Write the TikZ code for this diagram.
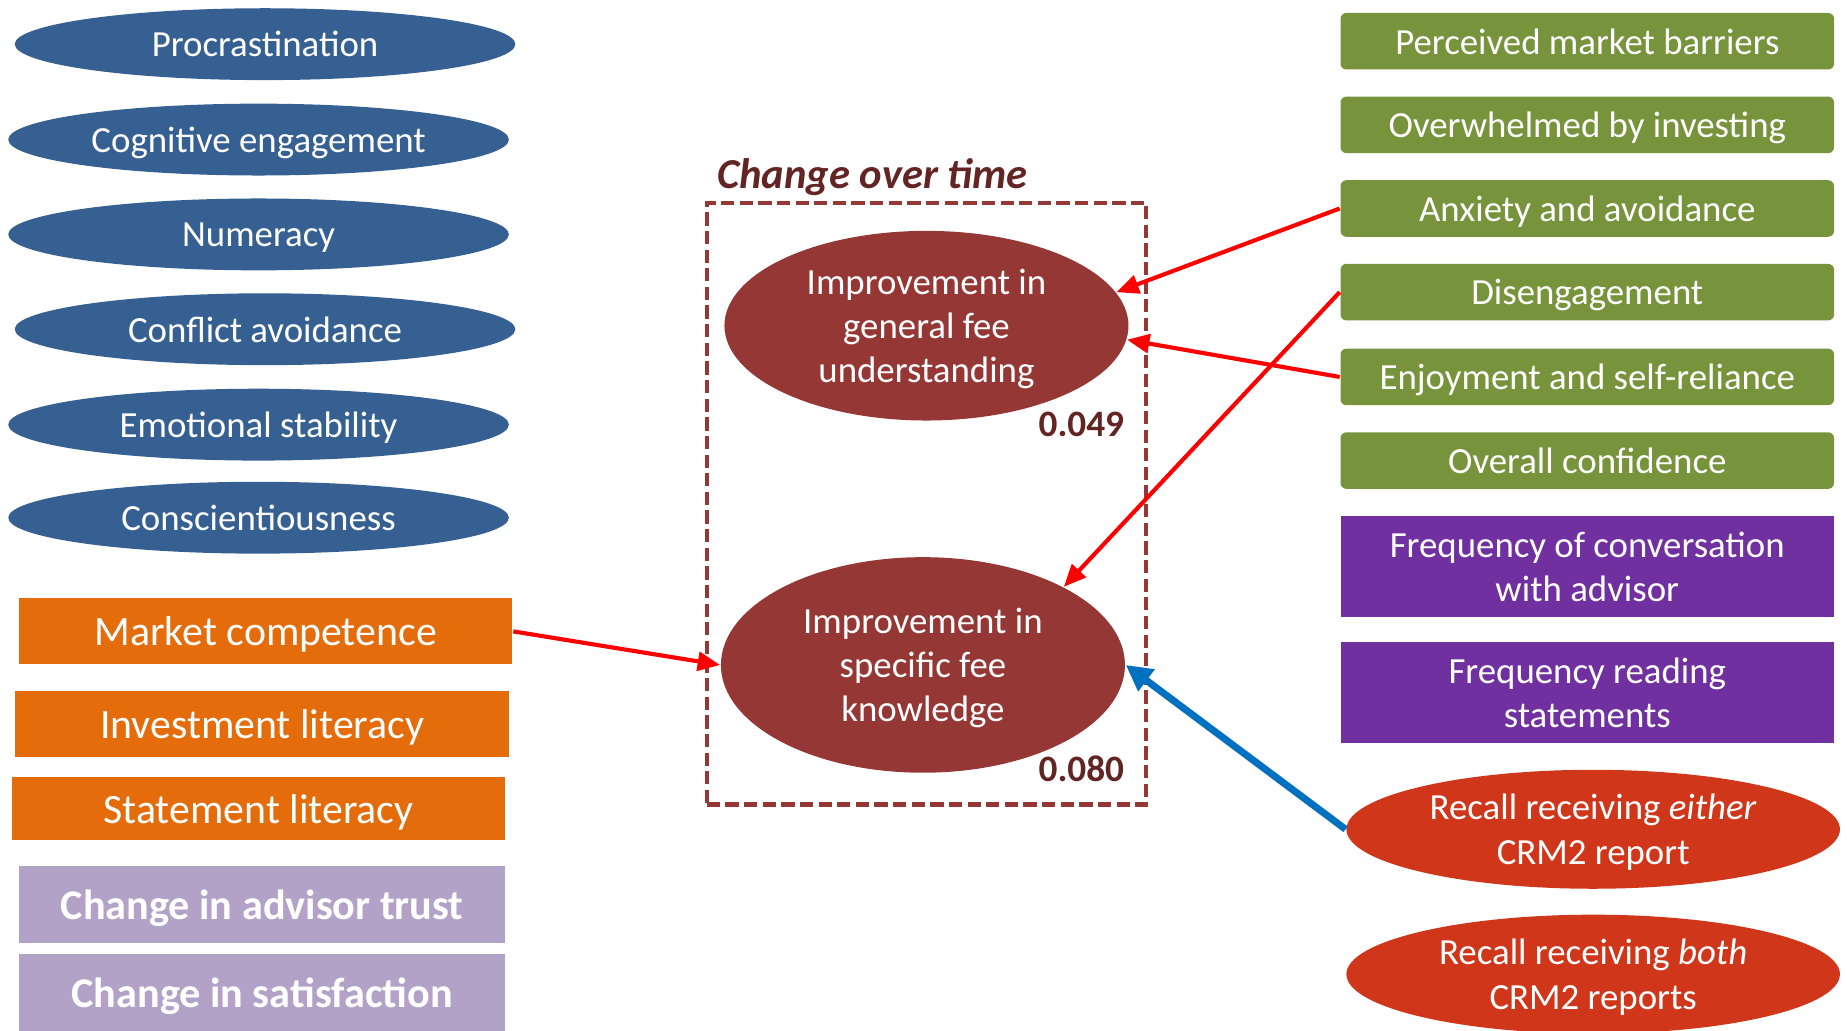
\documentclass[tikz,border=0pt]{standalone}
\usepackage{fontspec}
\setmainfont{Carlito}
\usetikzlibrary{positioning,shapes.geometric,arrows.meta}

\definecolor{traitblue}{RGB}{55,96,146}
\definecolor{litorange}{RGB}{228,108,10}
\definecolor{changelilac}{RGB}{178,162,199}
\definecolor{attgreen}{RGB}{119,147,60}
\definecolor{advpurple}{RGB}{112,48,160}
\definecolor{recallred}{RGB}{207,54,26}
\definecolor{feemaroon}{RGB}{149,55,53}
\definecolor{labelmaroon}{RGB}{99,37,35}
\definecolor{arrowblue}{RGB}{0,112,192}

\begin{document}
\begin{tikzpicture}[font=\rmfamily]

% ---- Define Styles ----
\tikzset{
  traitnode/.style={
    ellipse, fill=traitblue, text=white, inner sep=0pt, text depth=0pt,
    minimum width=4.25cm, minimum height=0.61cm,
    font=\fontsize{8.9}{10.7}\selectfont
  },
  litbox/.style={
    rectangle, fill=litorange, text=white, inner sep=0pt, text depth=0pt,
    minimum width=4.19cm, minimum height=0.56cm,
    font=\fontsize{10.1}{12}\selectfont
  },
  changebox/.style={
    rectangle, fill=changelilac, text=white, inner sep=0pt, text depth=0pt,
    minimum width=4.13cm, minimum height=0.655cm,
    font=\fontsize{10.2}{12}\selectfont\bfseries
  },
  attbox/.style={
    rectangle, rounded corners=0.05cm, fill=attgreen, text=white, inner sep=0pt,
    text depth=0pt, minimum width=4.19cm, minimum height=0.48cm,
    font=\fontsize{8.9}{10.7}\selectfont
  },
  advbox/.style={
    rectangle, fill=advpurple, text=white, inner sep=0pt, align=center,
    text depth=0pt, minimum width=4.19cm, minimum height=0.86cm,
    font=\fontsize{8.9}{10.7}\selectfont
  },
  recallnode/.style={
    ellipse, fill=recallred, text=white, inner sep=0pt, align=center,
    text depth=0pt, minimum width=4.19cm, minimum height=1.01cm,
    font=\fontsize{8.9}{10.7}\selectfont
  },
  feenode/.style={
    ellipse, fill=feemaroon, text=white, inner sep=0pt, align=center,
    text depth=0pt, minimum width=3.43cm,
    font=\fontsize{8.9}{10.7}\selectfont
  },
  timebox/.style={
    draw=feemaroon, line width=1pt, dash pattern=on 3.2pt off 1.3pt,
    minimum width=3.73cm, minimum height=5.11cm, inner sep=0pt
  },
  rsquare/.style={
    text=labelmaroon, font=\fontsize{9}{11}\selectfont\bfseries, anchor=east, inner sep=0pt
  },
  negarrow/.style={
    draw=red, line width=1pt, -{Triangle[length=0.19cm, width=0.16cm]}
  },
  posarrow/.style={
    draw=arrowblue, line width=1.7pt, -{Triangle[length=0.22cm, width=0.22cm]}
  }
}

\useasboundingbox (0,0) rectangle (15.68,-8.75);

% =========================================================
% LEFT COLUMN: traits (ellipses), literacy and change boxes
% =========================================================
\node[traitnode] (proc) at (2.25, -0.375) {Procrastination};
\node[traitnode] (cog)  at (2.195, -1.185) {Cognitive engagement};
\node[traitnode] (num)  at (2.195, -1.99) {Numeracy};
\node[traitnode] (conf) at (2.25, -2.795) {Conflict avoidance};
\node[traitnode] (emo)  at (2.195, -3.605) {Emotional stability};
\node[traitnode] (cons) at (2.195, -4.395) {Conscientiousness};

\node[litbox] (mkt) at (2.255, -5.36) {Market competence};
\node[litbox] (inv) at (2.225, -6.15) {Investment literacy};
\node[litbox, minimum height=0.53cm] (stm) at (2.195, -6.865) {Statement literacy};

\node[changebox] (trust) at (2.225, -7.68) {Change in advisor trust};
\node[changebox] (sat)   at (2.225, -8.425) {Change in satisfaction};

% =========================================================
% MIDDLE: change over time
% =========================================================
\node[timebox] (tbox) at (7.865, -4.275) {};
\node[anchor=west, inner sep=0pt, text=labelmaroon,
      font=\fontsize{10.3}{12}\selectfont\bfseries\itshape] (tlbl) at (6.08, -1.50) {Change over time};

\node[feenode, minimum height=1.61cm] (gen)  at (7.865, -2.765) {Improvement in\\general fee\\understanding};
\node[feenode, minimum height=1.83cm] (spec) at (7.835, -5.645) {Improvement in\\specific fee\\knowledge};

\node[rsquare] (rgen)  at (9.55, -3.60) {0.049};
\node[rsquare] (rspec) at (9.55, -6.53) {0.080};

% =========================================================
% RIGHT COLUMN: attitudes, advisor, recall
% =========================================================
\def\rx{13.475}
\node[attbox] (barr) at (\rx, -0.35) {Perceived market barriers};
\node[attbox] (over) at (\rx, -1.06) {Overwhelmed by investing};
\node[attbox] (anx)  at (\rx, -1.77) {Anxiety and avoidance};
\node[attbox] (dis)  at (\rx, -2.48) {Disengagement};
\node[attbox] (enj)  at (\rx, -3.20) {Enjoyment and self-reliance};
\node[attbox] (conf2) at (\rx, -3.91) {Overall confidence};

\node[advbox] (talk) at (\rx, -4.81) {Frequency of conversation\\with advisor};
\node[advbox] (read) at (\rx, -5.88) {Frequency reading\\statements};

\node[recallnode] (either) at (13.525, -7.04) {Recall receiving \textit{either}\\CRM2 report};
\node[recallnode] (both)   at (13.525, -8.27) {Recall receiving \textit{both}\\CRM2 reports};

% =========================================================
% ARROWS
% =========================================================
\draw[negarrow] (anx.west) -- (gen.10);
\draw[negarrow] (enj.west) -- (gen.-4);
\draw[negarrow] (dis.west) -- (spec.29);
\draw[negarrow] (mkt.east) -- (spec.west);
\draw[posarrow] (either.west) -- (spec.east);

\end{tikzpicture}
\end{document}
